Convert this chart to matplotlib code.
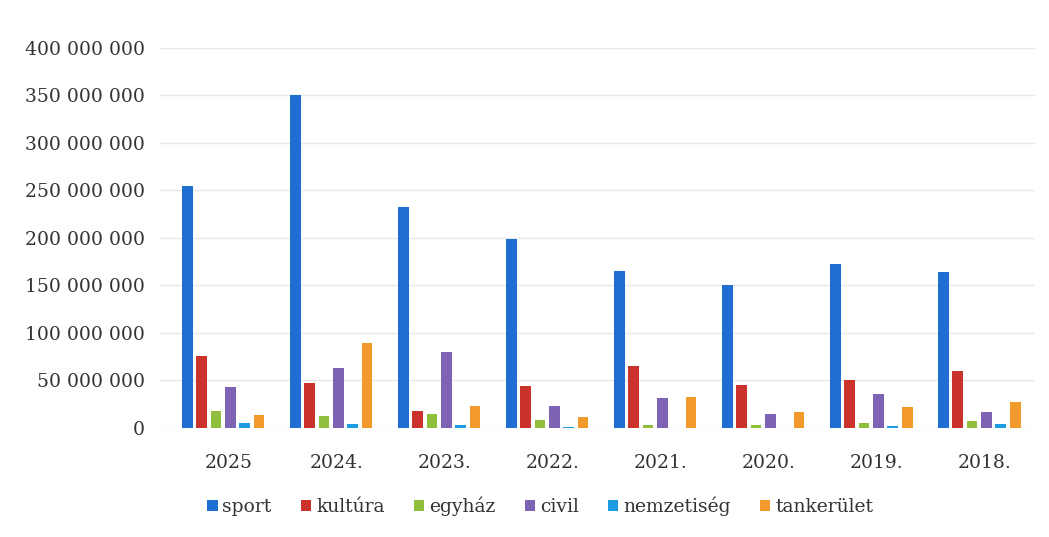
import matplotlib
matplotlib.use("Agg")
from matplotlib import pyplot as plt
import numpy as np

years = ["2025", "2024.", "2023.", "2022.", "2021.", "2020.", "2019.", "2018."]
sport = [255e6, 350e6, 232e6, 199e6, 165e6, 150e6, 173e6, 164e6]
kultura = [76e6, 47e6, 18e6, 44e6, 65e6, 45e6, 50e6, 60e6]
egyhaz = [17.5e6, 13e6, 15e6, 8e6, 3.5e6, 3e6, 5.5e6, 7e6]
civil = [43.5e6, 63e6, 80e6, 23e6, 31.5e6, 15e6, 36e6, 17e6]
nemzetiseg = [5e6, 4.5e6, 3.5e6, 1.5e6, 0, 0, 2e6, 4e6]
tankerulet = [14e6, 89e6, 23e6, 11.5e6, 32.5e6, 17e6, 22e6, 27.5e6]

series = [
    ("sport", sport, "#1f6fd2"),
    ("kultúra", kultura, "#c9332c"),
    ("egyház", egyhaz, "#8fbf3c"),
    ("civil", civil, "#7e62b3"),
    ("nemzetiség", nemzetiseg, "#1e9ce2"),
    ("tankerület", tankerulet, "#f29b2c"),
]

plt.rcParams["font.family"] = ["DejaVu Serif"]

fig = plt.figure(figsize=(10.49, 5.37), dpi=100)
ax = fig.add_axes([0.153, 0.203, 0.834, 0.708])

x = np.arange(len(years))
w = 0.1
pitch = 0.133
for i, (name, vals, col) in enumerate(series):
    ax.bar(x + (i - 2.5) * pitch, vals, width=w, color=col, label=name, zorder=3)

ax.set_ylim(0, 400e6)
ax.set_xlim(-0.58, len(years) - 0.48)
ticks = np.arange(0, 400e6 + 1, 50e6)
ax.set_yticks(ticks)
ax.set_yticklabels([f"{int(t):,}".replace(",", " ") for t in ticks], fontsize=13.5, color="#333333")
ax.set_xticks(x + 0.05)
ax.set_xticklabels(years, fontsize=13.5, color="#333333")
ax.tick_params(length=0)
ax.tick_params(axis="x", pad=19)
ax.tick_params(axis="y", pad=11)
ax.grid(axis="y", color="#e6e6e6", linewidth=1, zorder=0)
for s in ax.spines.values():
    s.set_visible(False)

ax.legend(loc="upper center", bbox_to_anchor=(0.434, -0.137), ncol=6, frameon=False,
          fontsize=13.5, handlelength=0.55, handleheight=0.55, handletextpad=0.25,
          columnspacing=1.57, labelcolor="#333333")

fig.savefig("out.png", dpi=100)
